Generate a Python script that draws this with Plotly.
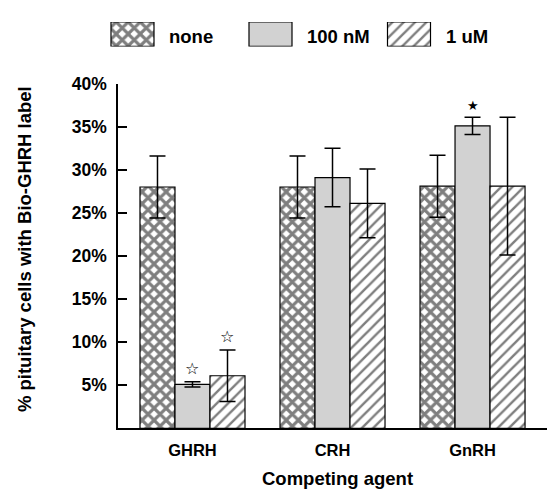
import plotly.graph_objects as go

# ---- data ----
categories = ["GHRH", "CRH", "GnRH"]
series_names = ["none", "100 nM", "1 uM"]
none_vals = [28.0, 28.0, 28.1]
none_err = [3.6, 3.6, 3.6]
nm100_vals = [5.1, 29.1, 35.1]
nm100_err = [0.3, 3.4, 1.0]
um1_vals = [6.1, 26.1, 28.1]
um1_err = [3.0, 4.0, 8.0]
y_tickvals = [5, 10, 15, 20, 25, 30, 35, 40]
y_ticktext = ["5%", "10%", "15%", "20%", "25%", "30%", "35%", "40%"]
# significance marks: (category, series index, symbol)
marks = [("GHRH", 1, "☆"), ("GHRH", 2, "☆"), ("GnRH", 1, "★")]

# page offset (body margin) compensation
OFF = 8
W, H = 555 - OFF, 489 - OFF
def px(x):
    return (x - OFF) / W
def py(y):
    return 1 - (y - OFF) / H

FONT = "Liberation Sans, Arial, sans-serif"
styles = [
    dict(color="white", line=dict(color="black", width=1.2),
         pattern=dict(shape="x", size=8.5, solidity=0.6, fgcolor="black", bgcolor="white", fillmode="overlay")),
    dict(color="#d2d2d2", line=dict(color="black", width=1.2)),
    dict(color="white", line=dict(color="black", width=1.2),
         pattern=dict(shape="/", size=8, solidity=0.3, fgcolor="black", bgcolor="white", fillmode="overlay")),
]
vals = [none_vals, nm100_vals, um1_vals]
errs = [none_err, nm100_err, um1_err]

fig = go.Figure()
for i in range(3):
    fig.add_trace(go.Bar(
        x=categories, y=vals[i], name=series_names[i],
        marker=styles[i],
        error_y=dict(type="data", array=errs[i], color="black", thickness=1.5, width=8),
        showlegend=False,
    ))

# custom legend swatches drawn on an auxiliary axis pair
legend_centers = [132.5, 270.5, 409]
for i in range(3):
    fig.add_trace(go.Bar(
        x=[legend_centers[i] - OFF], y=[1], base=0, width=43, offset=-21.5,
        marker=styles[i], xaxis="x2", yaxis="y2", showlegend=False, hoverinfo="skip",
    ))

annotations = []
for i in range(3):
    annotations.append(dict(
        x=px(legend_centers[i] + 34.5), y=py(27), xref="paper", yref="paper",
        text=series_names[i], showarrow=False, xanchor="left", yanchor="middle",
        font=dict(family=FONT, size=18.5, color="black", weight="bold"),
    ))

for cat, si, sym in marks:
    ci = categories.index(cat)
    top = vals[si][ci] + errs[si][ci]
    annotations.append(dict(
        x=cat, y=top, xref="x", yref="y", text=sym, showarrow=False,
        xshift=(si - 1) * 35, yshift=2, yanchor="bottom",
        font=dict(family="DejaVu Sans", size=16 if sym == "☆" else 13, color="black"),
    ))

annotations.append(dict(
    x=px(337), y=py(478), xref="paper", yref="paper", text="Competing agent",
    showarrow=False, xanchor="center", yanchor="middle",
    font=dict(family=FONT, size=18.5, color="black", weight="bold"),
))
annotations.append(dict(
    x=px(24), y=py(244), xref="paper", yref="paper",
    text="% pituitary cells with Bio-GHRH label", textangle=-90,
    showarrow=False, xanchor="center", yanchor="middle",
    font=dict(family=FONT, size=18.5, color="black", weight="bold"),
))

fig.update_layout(
    width=W, height=H, autosize=False,
    margin=dict(l=0, r=0, t=0, b=0),
    paper_bgcolor="white", plot_bgcolor="white",
    barmode="group", bargap=0.25, bargroupgap=0,
    annotations=annotations,
    xaxis=dict(domain=[px(118), 1], range=[-0.532, 2.589], showline=True,
               linecolor="black", linewidth=1.5, ticks="", showgrid=False,
               zeroline=False, ticklabelstandoff=6,
               tickfont=dict(family=FONT, size=16.5, color="black", weight="bold")),
    yaxis=dict(domain=[py(427), py(75)], range=[0, 40], showline=True,
               linecolor="black", linewidth=1.5, ticks="inside", ticklen=9,
               tickwidth=1.5, tickcolor="black", showgrid=False, zeroline=False,
               tickvals=y_tickvals, ticktext=y_ticktext, ticklabelstandoff=6,
               tickfont=dict(family=FONT, size=17.5, color="black", weight="bold")),
    xaxis2=dict(domain=[0, 1], range=[0, W], visible=False, anchor="y2"),
    yaxis2=dict(domain=[py(37), py(12)], range=[0, 1], visible=False, anchor="x2"),
)

fig.write_html("out.html")
